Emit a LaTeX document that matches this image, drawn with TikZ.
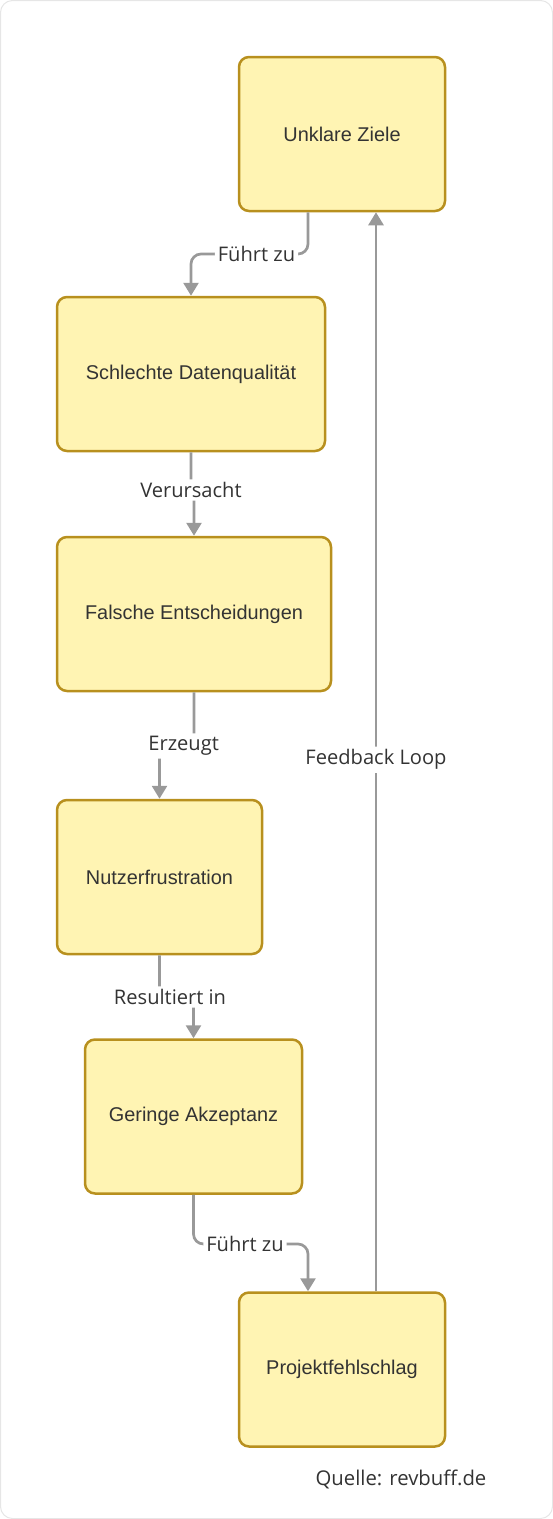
\documentclass[tikz,border=0pt]{standalone}
\usepackage{fontspec}
\setmainfont{Liberation Sans}
\newfontfamily\lblfont{Open Sans}
\usetikzlibrary{arrows.meta,calc}
\definecolor{boxfill}{HTML}{FFF4B3}
\definecolor{boxdraw}{HTML}{B8901E}
\definecolor{edgecol}{HTML}{999999}
\definecolor{txtcol}{HTML}{333333}
\definecolor{framecol}{HTML}{E6E6E6}
\begin{document}
\begin{tikzpicture}[x=1pt,y=-1pt,
  box/.style={draw=boxdraw,fill=boxfill,line width=2.5pt,rounded corners=10pt,
    minimum height=154pt,text=txtcol,font=\fontsize{19.9}{23}\selectfont,inner sep=0pt},
  edge/.style={draw=edgecol,line width=2.7pt,rounded corners=10pt,
    -{Triangle[length=13pt,width=15pt]}},
  lbl/.style={fill=white,text=txtcol,font=\lblfont\fontsize{20.1}{23}\selectfont,inner sep=3pt}]
\useasboundingbox (0,0) rectangle (553,1519);
\draw[framecol,line width=1pt,rounded corners=12pt] (0.5,0.5) rectangle (552.5,1518.5);

\node[box,minimum width=206pt] (n1) at (342,134) {Unklare Ziele};
\node[box,minimum width=268pt] (n2) at (191,374) {Schlechte Datenqualität};
\node[box,minimum width=274pt] (n3) at (194,614) {Falsche Entscheidungen};
\node[box,minimum width=205pt] (n4) at (159.5,877) {Nutzerfrustration};
\node[box,minimum width=217pt] (n5) at (193.5,1116.5) {Geringe Akzeptanz};
\node[box,minimum width=206pt] (n6) at (342,1369.5) {Projektfehlschlag};

\coordinate (c1) at ($(n1.south)+(-34,0)$);
\draw[edge] (c1) -- (308,254) -- node[lbl,pos=0.44] (l1) {Führt zu} (191,254) -- (n2.north);
\draw[edge] (n2.south) -- (191,490) node[lbl] (l2) {Verursacht} -- (194,490) -- (n3.north);
\draw[edge] (n3.south) -- (194,746) -- node[lbl,pos=0.3] (l3) {Erzeugt} (159.5,746) -- (n4.north);
\draw[edge] (n4.south) -- (159.5,997) -- node[lbl,pos=0.31] (l4) {Resultiert in} (193.5,997) -- (n5.north);
\coordinate (c6) at ($(n6.north)+(-34,0)$);
\draw[edge] (n5.south) -- (193.5,1244) -- node[lbl,pos=0.45] (l5) {Führt zu} (308,1244) -- (c6);
\coordinate (d6) at ($(n6.north)+(34,0)$);
\coordinate (d1) at ($(n1.south)+(34,0)$);
\draw[edge] (d6) -- node[lbl,pos=0.4926] (l6) {Feedback Loop} (d1);

\node[text=txtcol,font=\lblfont\fontsize{20.3}{24}\selectfont,inner sep=0pt] (src) at (401,1479) {Quelle: revbuff.de};
\end{tikzpicture}
\end{document}
